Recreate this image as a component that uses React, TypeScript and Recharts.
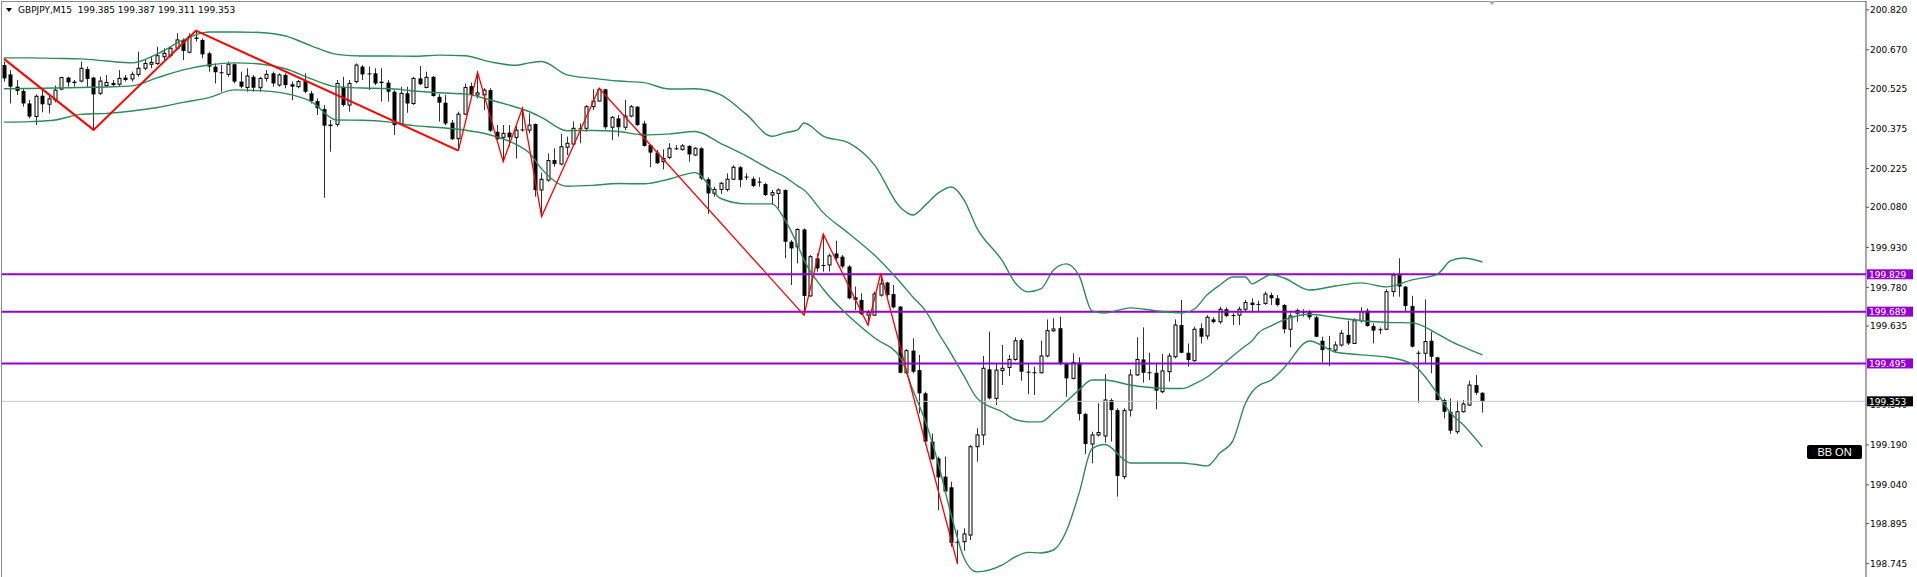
import React from 'react';
import { ComposedChart, Bar, Line, XAxis, YAxis, ReferenceLine } from 'recharts';

// GBPJPY M15 candles (oldest first)
const opens = [
  200.613, 200.578, 200.532, 200.516, 200.469, 200.420, 200.498, 200.466, 200.482, 200.523,
  200.566, 200.548, 200.553, 200.598, 200.566, 200.507, 200.536, 200.540, 200.541, 200.566,
  200.561, 200.578, 200.601, 200.616, 200.619, 200.644, 200.648, 200.676, 200.707, 200.661,
  200.716, 200.707, 200.657, 200.607, 200.586, 200.578, 200.616, 200.551, 200.529, 200.569,
  200.528, 200.563, 200.582, 200.538, 200.576, 200.541, 200.532, 200.553, 200.507, 200.478,
  200.448, 200.386, 200.391, 200.532, 200.463, 200.551, 200.607, 200.582, 200.582, 200.547,
  200.547, 200.513, 200.392, 200.507, 200.469, 200.563, 200.529, 200.569, 200.494, 200.472,
  200.397, 200.337, 200.429, 200.534, 200.501, 200.501, 200.519, 200.363, 200.342, 200.360,
  200.342, 200.372, 200.369, 200.392, 200.145, 200.182, 200.257, 200.242, 200.305, 200.317,
  200.376, 200.376, 200.457, 200.478, 200.522, 200.380, 200.413, 200.380, 200.422, 200.457,
  200.394, 200.313, 200.285, 200.251, 200.267, 200.301, 200.297, 200.310, 200.276, 200.301,
  200.185, 200.132, 200.147, 200.147, 200.185, 200.230, 200.195, 200.187, 200.176, 200.167,
  200.126, 200.132, 200.145, 199.951, 199.932, 199.997, 199.748, 199.889, 199.864, 199.864,
  199.907, 199.895, 199.858, 199.743, 199.733, 199.676, 199.676, 199.751, 199.798, 199.755,
  199.708, 199.460, 199.543, 199.470, 199.383, 199.202, 199.139, 199.071, 199.031, 198.827,
  198.827, 198.852, 199.183, 199.227, 199.473, 199.364, 199.468, 199.480, 199.510, 199.583,
  199.464, 199.462, 199.460, 199.523, 199.617, 199.627, 199.493, 199.439, 199.498, 199.306,
  199.193, 199.227, 199.223, 199.358, 199.320, 199.071, 199.320, 199.452, 199.510, 199.462,
  199.460, 199.389, 199.464, 199.520, 199.639, 199.535, 199.505, 199.627, 199.598, 199.660,
  199.651, 199.698, 199.676, 199.676, 199.698, 199.723, 199.718, 199.720, 199.751, 199.739,
  199.714, 199.623, 199.683, 199.689, 199.689, 199.668, 199.580, 199.552, 199.545, 199.564,
  199.602, 199.570, 199.655, 199.693, 199.635, 199.623, 199.623, 199.764, 199.826, 199.783,
  199.710, 199.535, 199.533, 199.580, 199.518, 199.358, 199.314, 199.239, 199.314, 199.339,
  199.414, 199.385,
];

const highs = [
  200.626, 200.594, 200.557, 200.526, 200.482, 200.503, 200.523, 200.501, 200.536, 200.569,
  200.569, 200.557, 200.626, 200.607, 200.569, 200.569, 200.576, 200.557, 200.594, 200.576,
  200.588, 200.663, 200.632, 200.644, 200.682, 200.676, 200.682, 200.732, 200.713, 200.732,
  200.742, 200.713, 200.663, 200.619, 200.613, 200.626, 200.619, 200.588, 200.601, 200.576,
  200.569, 200.594, 200.588, 200.582, 200.582, 200.551, 200.557, 200.582, 200.516, 200.488,
  200.463, 200.407, 200.557, 200.569, 200.557, 200.619, 200.613, 200.607, 200.601, 200.601,
  200.557, 200.519, 200.532, 200.532, 200.569, 200.609, 200.588, 200.572, 200.504, 200.501,
  200.407, 200.438, 200.544, 200.547, 200.586, 200.526, 200.526, 200.388, 200.388, 200.388,
  200.385, 200.451, 200.432, 200.394, 200.210, 200.282, 200.301, 200.355, 200.345, 200.401,
  200.394, 200.463, 200.522, 200.526, 200.524, 200.422, 200.426, 200.482, 200.463, 200.459,
  200.404, 200.317, 200.295, 200.297, 200.320, 200.313, 200.317, 200.313, 200.305, 200.305,
  200.192, 200.157, 200.176, 200.207, 200.238, 200.235, 200.207, 200.195, 200.192, 200.172,
  200.145, 200.151, 200.147, 199.957, 200.001, 200.001, 199.901, 199.907, 199.980, 199.907,
  199.955, 199.901, 199.864, 199.783, 199.758, 199.695, 199.764, 199.833, 199.801, 199.789,
  199.710, 199.548, 199.589, 199.527, 199.389, 199.233, 199.146, 199.146, 199.052, 198.871,
  198.877, 199.189, 199.252, 199.523, 199.614, 199.495, 199.564, 199.527, 199.593, 199.589,
  199.495, 199.483, 199.580, 199.660, 199.664, 199.670, 199.498, 199.533, 199.518, 199.310,
  199.239, 199.346, 199.455, 199.364, 199.327, 199.327, 199.473, 199.593, 199.630, 199.535,
  199.498, 199.530, 199.533, 199.660, 199.733, 199.570, 199.633, 199.645, 199.676, 199.668,
  199.708, 199.705, 199.683, 199.708, 199.733, 199.739, 199.730, 199.764, 199.760, 199.751,
  199.718, 199.683, 199.701, 199.698, 199.695, 199.673, 199.595, 199.598, 199.577, 199.620,
  199.655, 199.664, 199.705, 199.701, 199.645, 199.630, 199.773, 199.835, 199.889, 199.785,
  199.748, 199.543, 199.735, 199.614, 199.520, 199.364, 199.364, 199.356, 199.358, 199.430,
  199.452, 199.387,
];

const lows = [
  200.551, 200.469, 200.501, 200.457, 200.413, 200.388, 200.436, 200.432, 200.473, 200.519,
  200.532, 200.532, 200.548, 200.532, 200.370, 200.501, 200.532, 200.532, 200.532, 200.551,
  200.551, 200.569, 200.594, 200.601, 200.613, 200.632, 200.641, 200.669, 200.632, 200.657,
  200.701, 200.638, 200.588, 200.544, 200.513, 200.569, 200.544, 200.526, 200.513, 200.513,
  200.513, 200.551, 200.532, 200.532, 200.526, 200.482, 200.526, 200.507, 200.469, 200.426,
  200.116, 200.288, 200.382, 200.457, 200.438, 200.544, 200.557, 200.519, 200.538, 200.476,
  200.476, 200.351, 200.388, 200.434, 200.463, 200.538, 200.526, 200.494, 200.401, 200.388,
  200.332, 200.292, 200.426, 200.494, 200.488, 200.444, 200.363, 200.332, 200.251, 200.307,
  200.263, 200.363, 200.357, 200.120, 200.045, 200.176, 200.232, 200.238, 200.276, 200.313,
  200.320, 200.363, 200.444, 200.476, 200.372, 200.332, 200.345, 200.369, 200.417, 200.385,
  200.307, 200.230, 200.242, 200.222, 200.260, 200.295, 200.292, 200.251, 200.272, 200.182,
  200.055, 200.120, 200.130, 200.139, 200.182, 200.155, 200.182, 200.155, 200.157, 200.122,
  200.089, 200.076, 199.889, 199.789, 199.870, 199.676, 199.745, 199.839, 199.839, 199.839,
  199.883, 199.851, 199.735, 199.695, 199.676, 199.639, 199.673, 199.745, 199.745, 199.701,
  199.458, 199.455, 199.458, 199.308, 199.189, 199.133, 198.946, 199.008, 198.808, 198.743,
  198.793, 198.833, 199.127, 199.189, 199.360, 199.339, 199.414, 199.448, 199.505, 199.430,
  199.380, 199.377, 199.458, 199.518, 199.614, 199.489, 199.370, 199.435, 199.281, 199.156,
  199.121, 199.221, 199.198, 199.202, 198.996, 199.061, 199.296, 199.448, 199.423, 199.433,
  199.323, 199.383, 199.427, 199.514, 199.533, 199.483, 199.502, 199.570, 199.585, 199.645,
  199.643, 199.668, 199.639, 199.639, 199.689, 199.685, 199.689, 199.714, 199.714, 199.708,
  199.608, 199.555, 199.651, 199.670, 199.660, 199.593, 199.498, 199.485, 199.535, 199.558,
  199.564, 199.568, 199.648, 199.633, 199.570, 199.605, 199.620, 199.745, 199.745, 199.689,
  199.555, 199.348, 199.495, 199.458, 199.356, 199.289, 199.231, 199.231, 199.311, 199.336,
  199.377, 199.311,
];

const closes = [
  200.563, 200.532, 200.516, 200.469, 200.420, 200.496, 200.466, 200.486, 200.519, 200.566,
  200.548, 200.549, 200.601, 200.561, 200.503, 200.553, 200.548, 200.544, 200.563, 200.557,
  200.578, 200.601, 200.619, 200.623, 200.648, 200.657, 200.676, 200.707, 200.666, 200.719,
  200.711, 200.653, 200.607, 200.586, 200.585, 200.616, 200.551, 200.532, 200.572, 200.528,
  200.563, 200.578, 200.544, 200.576, 200.538, 200.532, 200.551, 200.513, 200.478, 200.451,
  200.386, 200.388, 200.544, 200.463, 200.544, 200.613, 200.578, 200.581, 200.544, 200.549,
  200.513, 200.388, 200.507, 200.469, 200.563, 200.541, 200.567, 200.497, 200.472, 200.394,
  200.335, 200.429, 200.529, 200.501, 200.509, 200.519, 200.367, 200.335, 200.357, 200.342,
  200.369, 200.371, 200.388, 200.145, 200.185, 200.255, 200.242, 200.307, 200.320, 200.376,
  200.375, 200.457, 200.478, 200.522, 200.380, 200.417, 200.380, 200.422, 200.457, 200.388,
  200.310, 200.285, 200.245, 200.263, 200.301, 200.300, 200.310, 200.278, 200.301, 200.188,
  200.132, 200.147, 200.170, 200.185, 200.230, 200.182, 200.194, 200.160, 200.175, 200.126,
  200.135, 200.145, 199.951, 199.926, 199.997, 199.748, 199.895, 199.851, 199.863, 199.898,
  199.889, 199.858, 199.739, 199.733, 199.680, 199.685, 199.755, 199.793, 199.751, 199.705,
  199.460, 199.543, 199.464, 199.383, 199.202, 199.136, 199.068, 199.015, 198.823, 198.826,
  198.856, 199.183, 199.227, 199.477, 199.364, 199.470, 199.477, 199.510, 199.580, 199.464,
  199.463, 199.461, 199.523, 199.618, 199.624, 199.493, 199.439, 199.498, 199.306, 199.193,
  199.227, 199.236, 199.358, 199.320, 199.073, 199.318, 199.452, 199.510, 199.460, 199.461,
  199.393, 199.467, 199.523, 199.639, 199.535, 199.508, 199.623, 199.595, 199.668, 199.650,
  199.698, 199.673, 199.673, 199.698, 199.723, 199.714, 199.717, 199.755, 199.739, 199.714,
  199.623, 199.673, 199.693, 199.688, 199.668, 199.595, 199.545, 199.551, 199.564, 199.608,
  199.570, 199.655, 199.689, 199.635, 199.618, 199.622, 199.764, 199.826, 199.783, 199.710,
  199.558, 199.534, 199.577, 199.520, 199.358, 199.314, 199.243, 199.314, 199.343, 199.414,
  199.385, 199.353,
];

// Bollinger band values read at these bar positions
const bandIdx = [
  0, 4, 8, 12, 16, 20, 24, 28, 32, 36, 40, 44, 48, 52, 56, 60, 64, 68, 72, 76,
  80, 82, 84, 88, 92, 96, 100, 104, 108, 112, 116, 120, 122, 124, 125, 128, 132, 136, 140, 142,
  144, 146, 148, 150, 152, 156, 158, 160, 162, 164, 166, 168, 170, 172, 176, 180, 184, 186, 188, 190,
  192, 194, 195, 196, 198, 200, 204, 208, 212, 216, 220, 224, 226, 228, 231,
];
const bbUpper = [
  200.640, 200.640, 200.638, 200.636, 200.628, 200.621, 200.655, 200.707, 200.737, 200.737,
  200.735, 200.722, 200.685, 200.653, 200.647, 200.647, 200.646, 200.650, 200.648, 200.625,
  200.612, 200.621, 200.626, 200.576, 200.563, 200.553, 200.547, 200.523, 200.524, 200.501,
  200.428, 200.346, 200.359, 200.370, 200.396, 200.347, 200.321, 200.239, 200.081, 200.051,
  200.089, 200.134, 200.156, 200.108, 200.003, 199.879, 199.797, 199.763, 199.774, 199.845,
  199.868, 199.823, 199.692, 199.684, 199.703, 199.692, 199.684, 199.699, 199.752, 199.789,
  199.819, 199.819, 199.793, 199.804, 199.827, 199.815, 199.770, 199.785, 199.797, 199.782,
  199.808, 199.830, 199.879, 199.890, 199.875,
];
const bbMiddle = [
  200.524, 200.525, 200.527, 200.529, 200.531, 200.535, 200.566, 200.595, 200.613, 200.621,
  200.617, 200.599, 200.561, 200.531, 200.527, 200.525, 200.516, 200.509, 200.505, 200.482,
  200.455, 200.439, 200.417, 200.367, 200.368, 200.364, 200.351, 200.355, 200.364, 200.319,
  200.272, 200.218, 200.194, 200.160, 200.145, 200.060, 199.982, 199.901, 199.800, 199.744,
  199.692, 199.609, 199.531, 199.448, 199.366, 199.313, 199.285, 199.276, 199.276, 199.311,
  199.353, 199.396, 199.433, 199.433, 199.414, 199.403, 199.401, 199.418, 199.444, 199.482,
  199.523, 199.561, 199.579, 199.609, 199.636, 199.658, 199.679, 199.667, 199.656, 199.649,
  199.647, 199.606, 199.579, 199.557, 199.527,
];
const bbLower = [
  200.399, 200.401, 200.407, 200.428, 200.432, 200.441, 200.454, 200.473, 200.491, 200.520,
  200.517, 200.506, 200.476, 200.407, 200.406, 200.400, 200.386, 200.379, 200.369, 200.351,
  200.316, 200.285, 200.224, 200.159, 200.162, 200.169, 200.168, 200.186, 200.210, 200.113,
  200.093, 200.093, 200.034, 199.939, 199.883, 199.774, 199.673, 199.591, 199.519, 199.396,
  199.276, 199.118, 198.927, 198.766, 198.714, 198.740, 198.770, 198.787, 198.785, 198.796,
  198.867, 199.010, 199.175, 199.191, 199.122, 199.122, 199.122, 199.117, 199.111, 199.160,
  199.205, 199.347, 199.388, 199.411, 199.433, 199.478, 199.579, 199.538, 199.527, 199.519,
  199.493, 199.381, 199.310, 199.265, 199.182,
];

// ZigZag pivots
const zzMajorIdx = [0, 14, 30, 71];
const zzMajorVal = [200.636, 200.370, 200.742, 200.292];
const zzMinorIdx = [71, 74, 78, 81, 84, 93, 125, 128, 135, 137, 149];
const zzMinorVal = [200.292, 200.586, 200.251, 200.451, 200.045, 200.526, 199.676, 199.980, 199.639, 199.833, 198.743];

const levels = [199.829, 199.689, 199.495];
const lastPrice = 199.353;
const priceTicks = [200.82, 200.67, 200.525, 200.375, 200.225, 200.08, 199.93, 199.78, 199.635, 199.34, 199.19, 199.04, 198.895, 198.745];

const Y_DOMAIN: [number, number] = [198.6948, 200.8492];
const PLOT_HEIGHT = 575;
const BB_GREEN = '#2e8b57';
const LEVEL_PURPLE = '#9400d3';
const FONT = '"DejaVu Sans", Tahoma, sans-serif';

const pick = (idx: number[], vals: number[], i: number) => {
  const k = idx.indexOf(i);
  return k >= 0 ? vals[k] : null;
};

const rows = opens.map((o, i) => ({
  i,
  range: [lows[i], highs[i]],
  open: o,
  high: highs[i],
  low: lows[i],
  close: closes[i],
  upper: pick(bandIdx, bbUpper, i),
  middle: pick(bandIdx, bbMiddle, i),
  lower: pick(bandIdx, bbLower, i),
  zzMajor: pick(zzMajorIdx, zzMajorVal, i),
  zzMinor: pick(zzMinorIdx, zzMinorVal, i),
}));

function Candle(props: any) {
  const { x, y, width, height, payload } = props;
  if (!payload || x == null) return null;
  const { open, close, high, low } = payload;
  const top = Math.min(y, y + height);
  const h = Math.abs(height);
  const py = (v: number) => top + ((high - v) / (high - low)) * h;
  const cx = Math.round(x + width / 2) + 0.5;
  const bTop = py(Math.max(open, close));
  const bBot = py(Math.min(open, close));
  const bull = close >= open;
  return (
    <g>
      <line x1={cx} x2={cx} y1={top} y2={top + h} stroke="#333" strokeWidth={1} />
      {bull ? (
        <rect x={cx - 1.5} y={bTop} width={3} height={Math.max(bBot - bTop, 0.4)} fill="#fff" stroke="#000" strokeWidth={1} />
      ) : (
        <rect x={cx - 2} y={bTop} width={4} height={Math.max(bBot - bTop, 1)} fill="#000" />
      )}
    </g>
  );
}

// price axis label; the part hidden under the last-price tag is clipped away
function PriceTick(props: any) {
  const { x, y, payload } = props;
  const v = payload.value as number;
  const pxPerUnit = PLOT_HEIGHT / (Y_DOMAIN[1] - Y_DOMAIN[0]);
  const tagY = y - (lastPrice - v) * pxPerUnit;
  const covered = Math.abs(tagY - y) < 10;
  const clipId = `tick-clip-${Math.round(v * 1000)}`;
  return (
    <g>
      {covered && (
        <defs>
          <clipPath id={clipId}>
            <rect x={x - 2} y={tagY + 5} width={60} height={20} />
          </clipPath>
        </defs>
      )}
      <text
        x={x}
        y={y}
        dy="0.355em"
        textAnchor="start"
        fill="#000"
        fontSize={9}
        fontFamily={FONT}
        clipPath={covered ? `url(#${clipId})` : undefined}
      >
        {v.toFixed(3)}
      </text>
    </g>
  );
}

// horizontal level with its price tag in the axis column
const tagLine = (color: string, bg: string, width: number, text: string) => (p: any) => {
  const left = Math.min(p.x1, p.x2);
  const right = Math.max(p.x1, p.x2);
  const y = p.y1;
  return (
    <g>
      <line x1={left} x2={right} y1={y} y2={y} stroke={color} strokeWidth={width} />
      <rect x={right + 1} y={y - 5} width={46} height={10} fill={bg} />
      <text x={right + 3} y={y} dy="0.36em" fill="#fff" fontSize={9} fontFamily={FONT}>
        {text}
      </text>
    </g>
  );
};

export default function App() {
  return (
    <div
      style={{
        position: 'fixed',
        left: 0,
        top: 0,
        width: 1917,
        height: 577,
        overflow: 'hidden',
        background: '#fff',
        fontFamily: FONT,
      }}
    >
      <ComposedChart width={1917} height={577} data={rows} margin={{ top: 2, right: 0, bottom: 0, left: 1 }}>
        <XAxis dataKey="i" type="number" domain={[-0.469, 290.94]} allowDataOverflow hide />
        <YAxis
          orientation="right"
          type="number"
          domain={Y_DOMAIN}
          allowDataOverflow
          ticks={priceTicks}
          interval={0}
          width={51}
          tickSize={3}
          tickMargin={1}
          tickLine={{ stroke: '#555' }}
          axisLine={{ stroke: '#555' }}
          tick={<PriceTick />}
        />
        <ReferenceLine y={lastPrice} shape={tagLine('#c8c8c8', '#000', 1, lastPrice.toFixed(3))} />
        {levels.map((lv) => (
          <ReferenceLine key={lv} y={lv} shape={tagLine(LEVEL_PURPLE, LEVEL_PURPLE, 2, lv.toFixed(3))} />
        ))}
        <Line dataKey="upper" type="monotone" stroke={BB_GREEN} strokeWidth={1.4} dot={false} connectNulls isAnimationActive={false} />
        <Line dataKey="middle" type="monotone" stroke={BB_GREEN} strokeWidth={1.4} dot={false} connectNulls isAnimationActive={false} />
        <Line dataKey="lower" type="monotone" stroke={BB_GREEN} strokeWidth={1.4} dot={false} connectNulls isAnimationActive={false} />
        <Bar dataKey="range" barSize={4} shape={<Candle />} isAnimationActive={false} />
        <Line dataKey="zzMajor" type="linear" stroke="#ff0000" strokeWidth={2} dot={false} connectNulls isAnimationActive={false} />
        <Line dataKey="zzMinor" type="linear" stroke="#ff0000" strokeWidth={1.3} dot={false} connectNulls isAnimationActive={false} />
      </ComposedChart>

      {/* chart frame, top and left */}
      <div
        style={{
          position: 'absolute',
          left: 1,
          top: 1,
          width: 1865,
          height: 600,
          borderTop: '1px solid #8a8a8a',
          borderLeft: '1px solid #8a8a8a',
          pointerEvents: 'none',
        }}
      />

      <svg style={{ position: 'absolute', left: 6, top: 8 }} width={7} height={5}>
        <polygon points="0,0 6,0 3,4" fill="#000" />
      </svg>
      <div
        style={{
          position: 'absolute',
          left: 18,
          top: 5,
          fontSize: 9,
          lineHeight: '11px',
          color: '#000',
          whiteSpace: 'pre',
        }}
      >
        GBPJPY,M15  199.385 199.387 199.311 199.353
      </div>

      <svg style={{ position: 'absolute', left: 1488, top: 1 }} width={9} height={5}>
        <polygon points="0,0 8,0 4,4" fill="#b0b0b0" />
      </svg>

      <div
        style={{
          position: 'absolute',
          left: 1807,
          top: 445,
          width: 55,
          height: 14,
          background: '#000',
          color: '#fff',
          borderRadius: 2,
          fontFamily: '"Liberation Sans", Arial, sans-serif',
          fontSize: 11,
          lineHeight: '14px',
          textAlign: 'center',
        }}
      >
        BB ON
      </div>
    </div>
  );
}
